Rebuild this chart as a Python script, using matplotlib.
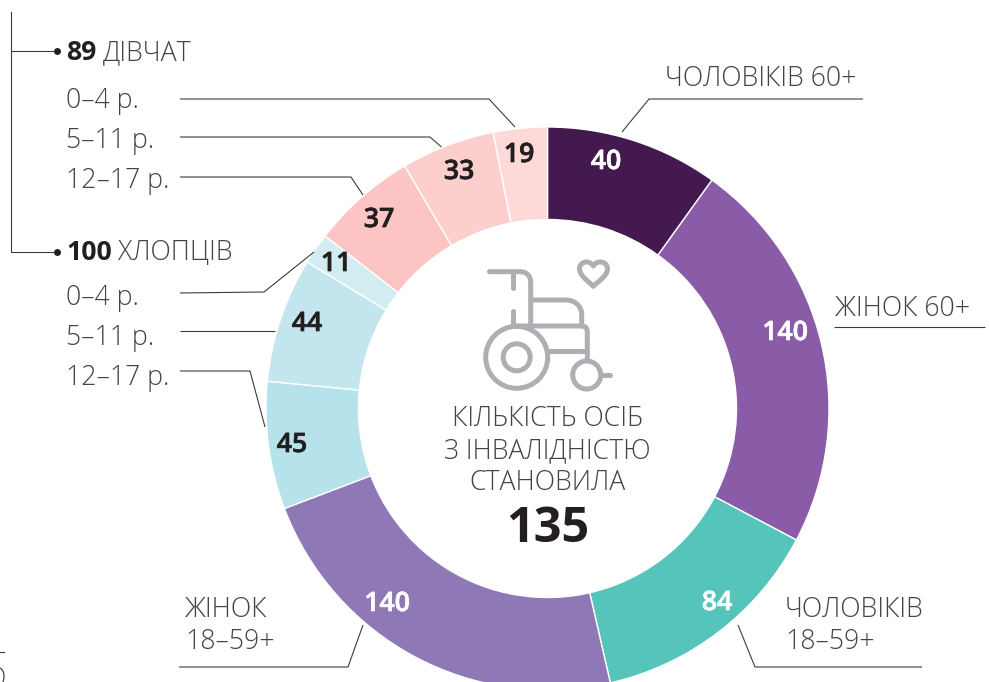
import matplotlib
matplotlib.use("Agg")
import matplotlib.pyplot as plt
import matplotlib.patheffects as pe
from matplotlib.path import Path
from matplotlib.patches import PathPatch, Circle

plt.rcParams['font.family'] = ['Open Sans', 'DejaVu Sans']

# Data: slice sizes as drawn and the labels as printed (first slice is drawn larger than its label)
slice_values = [61, 140, 84, 140, 45, 44, 11, 37, 33, 19]
slice_labels = ['40', '140', '84', '140', '45', '44', '11', '37', '33', '19']
slice_colors = ['#43194F', '#8A5BA6', '#55C4BB', '#8F78B6', '#B5E2EB',
                '#C3E5EE', '#D2ECF1', '#FCC5C3', '#FCCFCC', '#FED9D8']
label_colors = ['white', 'white', 'white', 'white', '#231F20',
                '#231F20', '#231F20', '#231F20', '#231F20', '#231F20']
age_labels = ['0–4 р.', '5–11 р.', '12–17 р.']
girls_total, boys_total = 89, 100
center_lines = ['КІЛЬКІСТЬ ОСІБ', 'З ІНВАЛІДНІСТЮ', 'СТАНОВИЛА']
center_value = '135'

TXT = '#444446'
DARK = '#231F20'
LINE = '#3c3c3c'
ICON = '#AEAFB2'
FS = 19.2

fig = plt.figure(figsize=(9.89, 6.82), dpi=100)
ax = fig.add_axes([0, 0, 1, 1])
cx, cy, R, r = 547.5, 408.5, 281.5, 189

wedges, _ = ax.pie(slice_values, colors=slice_colors, startangle=-90, counterclock=True,
                   center=(cx, cy), radius=R, frame=True,
                   wedgeprops=dict(width=R - r, edgecolor='white', linewidth=1.0))
ax.set_xlim(0, 989)
ax.set_ylim(682, 0)
ax.set_aspect('equal')
ax.axis('off')

# slice labels
label_pos = [(606, 162), (785, 333), (717, 603), (387, 604), (292, 445),
             (307, 324), (336, 264), (379, 220), (459, 172), (519, 155)]
for (x, y), s, c in zip(label_pos, slice_labels, label_colors):
    ax.text(x, y, s, ha='center', va='center', fontsize=FS, fontweight='semibold', color=c,
            path_effects=[pe.withStroke(linewidth=0.5, foreground=c)])

# leader lines
leaders = [
    [(863, 99), (649, 99), (622, 132)],
    [(985, 327), (834, 327)],
    [(180, 99), (489, 99), (515, 127)],
    [(180, 137), (430, 137), (441.5, 147)],
    [(180, 177), (351, 177), (363, 195)],
    [(180, 293), (264, 292), (314, 252)],
    [(180, 331), (275, 331)],
    [(180, 371), (250, 371), (265, 427)],
    [(179, 667), (348, 667), (363, 625)],
    [(922, 667), (755, 667), (738, 625)],
]
for pts in leaders:
    ax.plot(*zip(*pts), color=LINE, lw=0.8, solid_joinstyle='miter', solid_capstyle='butt')

# bracket
ax.plot([11, 11, 55], [12, 252, 252], color=LINE, lw=0.8)
ax.plot([11, 55], [50.7, 50.7], color=LINE, lw=0.8)
for y in (50.7, 252):
    ax.plot([57], [y], 'o', ms=5, color=DARK, mec='none')

# outside texts
def light(x, y, s, **kw):
    ax.text(x, y, s, fontsize=FS, color=TXT, va='center', fontweight='light', **kw)

light(665, 79, 'ЧОЛОВІКІВ 60+')
light(835, 309, 'ЖІНОК 60+')
light(785, 610, 'ЧОЛОВІКІВ')
light(785, 642, '18–59+')
light(185, 610, 'ЖІНОК')
light(185, 642, '18–59+')

ax.text(66, 53, str(girls_total), fontsize=FS, color=DARK, fontweight='bold', va='center')
light(103, 53, 'ДІВЧАТ')
ax.text(66, 253, str(boys_total), fontsize=FS, color=DARK, fontweight='bold', va='center')
light(118, 253, 'ХЛОПЦІВ')
for ys in ((101, 141, 181), (298, 338, 378)):
    for y, s in zip(ys, age_labels):
        light(66.5, y, s)

# centre text
for y, s in zip((419, 451, 483), center_lines):
    light(547.5, y, s, ha='center')
ax.text(548, 529, center_value, fontsize=35, color=DARK, ha='center', va='center', fontweight='bold')

# wheelchair icon
LW = 3.6
M, L, C = Path.MOVETO, Path.LINETO, Path.CURVE4
def stroke(verts, codes=None):
    if codes is None:
        codes = [M] + [L] * (len(verts) - 1)
    ax.add_patch(PathPatch(Path(verts, codes), fc='none', ec=ICON, lw=LW, capstyle='round', joinstyle='round'))
ax.add_patch(Circle((516.7, 357.3), 31, fc='none', ec=ICON, lw=LW))
ax.add_patch(Circle((516.7, 357.3), 13.5, fc='none', ec=ICON, lw=LW))
ax.add_patch(Circle((586.7, 375), 14, fc='none', ec=ICON, lw=LW))
stroke([(603, 375), (610, 375)])
stroke([(489.5, 271.7), (520, 271.7), (527, 271.7), (530.7, 276), (530.7, 283), (530.7, 325)],
       [M, L, C, C, C, L])
stroke([(512.7, 273), (512.7, 288)])
stroke([(512.7, 299.3), (512.7, 299.4)])
stroke([(512.7, 310.7), (512.7, 325)])
stroke([(531, 300), (566, 300), (575, 300), (581.7, 306), (581.7, 315), (581.7, 326)],
       [M, L, C, C, C, L])
stroke([(512, 326), (582, 326), (585, 326), (587.3, 328), (587.3, 332), (587.3, 360)],
       [M, L, C, C, C, L])
stroke([(548, 350.7), (587, 350.7)])
stroke([(593.3, 286), (585, 279), (579, 274), (579.5, 268), (580, 262), (589, 259), (593.3, 266),
        (597.5, 259), (607, 262), (607.5, 268), (608, 274), (602, 279), (593.3, 286)],
       [M, C, C, C, C, C, C, C, C, C, C, C, C])

# cropped remnants at the lower left edge
ax.plot([0, 4], [651.7, 651.7], color=LINE, lw=0.8)
ax.add_patch(PathPatch(Path([(0, 668), (4, 670), (5, 676), (3, 682)], [M, C, C, C]),
                       fc='none', ec=TXT, lw=0.9))

fig.savefig('out.png', dpi=100)
